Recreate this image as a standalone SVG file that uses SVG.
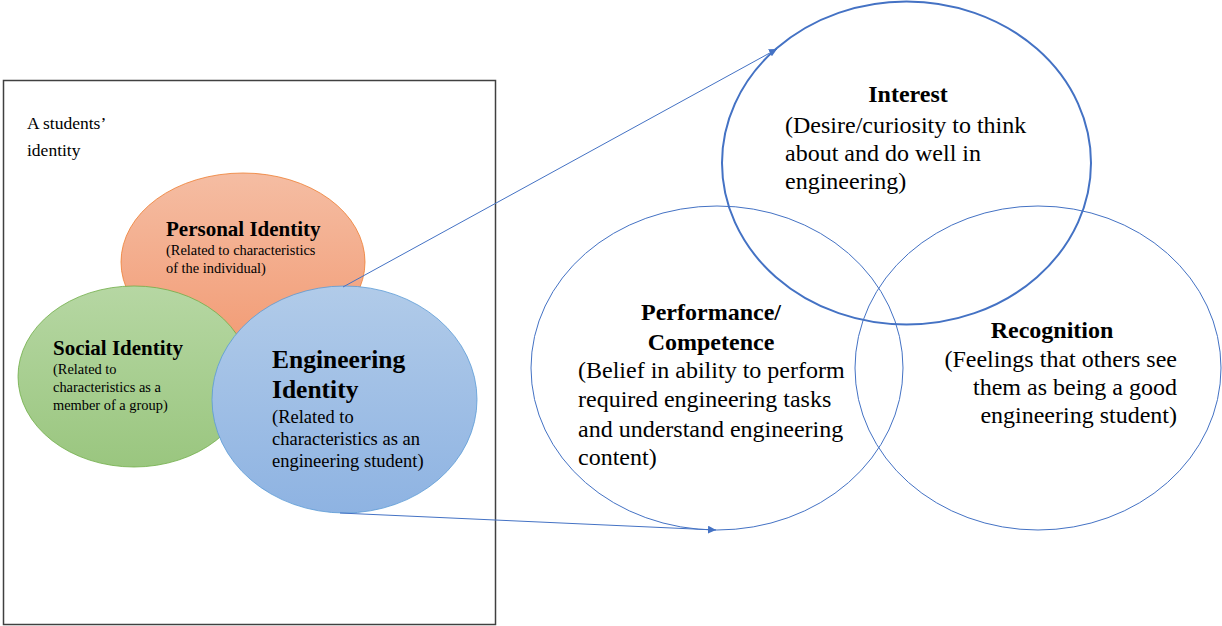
<svg xmlns="http://www.w3.org/2000/svg" width="1222" height="626" viewBox="0 0 1222 626">
<style>
text{font-family:"Liberation Serif","Times New Roman",serif;fill:#000}
.b{font-weight:bold}
.t21{font-size:21px;font-weight:bold}
.s14{font-size:14.4px}
.big{font-size:24px}
.ring{fill:none;stroke:#4472C4}
.conn{fill:none;stroke:#4472C4;stroke-width:1}
</style>
<defs>
<linearGradient id="gO" x1="0" y1="0" x2="0" y2="1"><stop offset="0" stop-color="#F5BDA3"/><stop offset="1" stop-color="#F29B74"/></linearGradient>
<linearGradient id="gG" x1="0" y1="0" x2="0" y2="1"><stop offset="0" stop-color="#B6D7A3"/><stop offset="1" stop-color="#9AC67F"/></linearGradient>
<linearGradient id="gB" x1="0" y1="0" x2="0" y2="1"><stop offset="0" stop-color="#B1CBE9"/><stop offset="1" stop-color="#8EB3E2"/></linearGradient>
<marker id="ah" viewBox="0 0 10 10" refX="10" refY="5" markerWidth="8" markerHeight="8" markerUnits="userSpaceOnUse" orient="auto"><path d="M0,0 L10,5 L0,10 Z" fill="#4472C4"/></marker>
</defs>

<g id="box">
<rect x="3.5" y="80.5" width="492" height="544" fill="none" stroke="#404040" stroke-width="1.5"/>
<text x="27" y="129" style="font-size:17.5px">A students’</text>
<text x="27" y="156" style="font-size:17.5px">identity</text>
</g>

<g id="personal">
<ellipse cx="243" cy="262" rx="122" ry="89" fill="url(#gO)" stroke="#ED7D31" stroke-width="0.8"/>
<text x="166" y="236" class="t21">Personal Identity</text>
<text x="166" y="255" class="s14">(Related to characteristics</text>
<text x="166" y="273" class="s14">of the individual)</text>
</g>

<g id="social">
<ellipse cx="134" cy="376.5" rx="116" ry="90.5" fill="url(#gG)" stroke="#70AD47" stroke-width="0.8"/>
<text x="53" y="355" class="t21">Social Identity</text>
<text x="53" y="374" class="s14">(Related to</text>
<text x="53" y="392" class="s14">characteristics as a</text>
<text x="53" y="410" class="s14">member of a group)</text>
</g>

<g id="engineering">
<ellipse cx="344.5" cy="399.5" rx="132.5" ry="113.5" fill="url(#gB)" stroke="#5B9BD5" stroke-width="0.8"/>
<text x="272" y="368" class="b" style="font-size:25.5px">Engineering</text>
<text x="272" y="398" class="b" style="font-size:25.5px">Identity</text>
<text x="272" y="423" style="font-size:18.5px">(Related to</text>
<text x="272" y="445" style="font-size:18.5px">characteristics as an</text>
<text x="272" y="467" style="font-size:18.5px">engineering student)</text>
</g>

<g id="performance">
<ellipse cx="717" cy="368" rx="186" ry="162" class="ring" stroke-width="1"/>
<text x="711" y="320" class="b big" text-anchor="middle">Performance/</text>
<text x="711" y="350" class="b big" text-anchor="middle">Competence</text>
<text x="578" y="378" class="big">(Belief in ability to perform</text>
<text x="578" y="407" class="big">required engineering tasks</text>
<text x="578" y="437" class="big">and understand engineering</text>
<text x="578" y="465" class="big">content)</text>
</g>

<g id="recognition">
<ellipse cx="1038" cy="368" rx="183" ry="162" class="ring" stroke-width="1"/>
<text x="1052" y="338" class="b big" text-anchor="middle">Recognition</text>
<text x="1177" y="367" class="big" text-anchor="end">(Feelings that others see</text>
<text x="1177" y="395" class="big" text-anchor="end">them as being a good</text>
<text x="1177" y="423" class="big" text-anchor="end">engineering student)</text>
</g>

<g id="interest">
<ellipse cx="906.5" cy="163" rx="184.5" ry="161.5" class="ring" stroke-width="2"/>
<text x="908" y="102" class="b big" text-anchor="middle">Interest</text>
<text x="785" y="133" class="big">(Desire/curiosity to think</text>
<text x="785" y="161" class="big">about and do well in</text>
<text x="785" y="189" class="big">engineering)</text>
</g>

<g id="connectors">
<line x1="343" y1="287" x2="777" y2="49" class="conn" marker-end="url(#ah)"/>
<line x1="340" y1="513" x2="716" y2="530" class="conn" marker-end="url(#ah)"/>
</g>
</svg>
